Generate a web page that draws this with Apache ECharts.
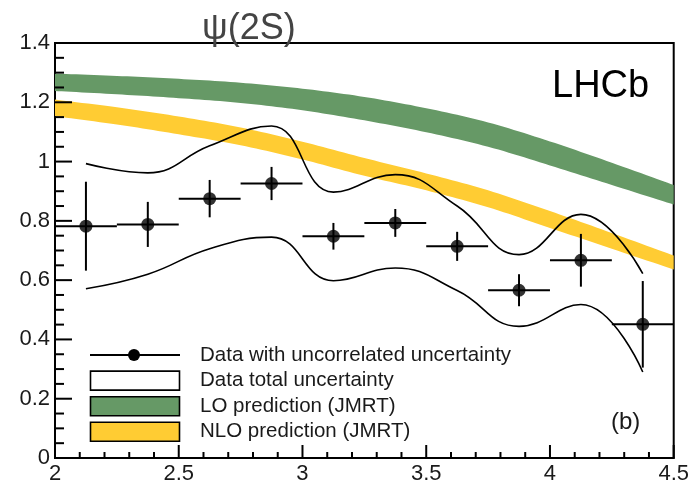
<!DOCTYPE html>
<html>
<head>
<meta charset="utf-8">
<script src="https://cdn.jsdelivr.net/npm/echarts@6/dist/echarts.min.js"></script>
<style>
  html, body { margin: 0; padding: 0; background: #fff; }
  #chart { width: 692px; height: 488px; }
</style>
</head>
<body>
<div id="chart"></div>
<script>
// Measured ratio per rapidity bin, with uncorrelated uncertainties
const binCenters   = [2.125, 2.375, 2.625, 2.875, 3.125, 3.375, 3.625, 3.875, 4.125, 4.375];
const binHalfWidth = [0.125, 0.125, 0.125, 0.125, 0.125, 0.125, 0.125, 0.125, 0.125, 0.125];
const ratio        = [0.782, 0.788, 0.875, 0.926, 0.748, 0.793, 0.714, 0.566, 0.667, 0.451];
const uncorrErr    = [0.150, 0.076, 0.063, 0.056, 0.045, 0.047, 0.049, 0.054, 0.089, 0.146];

// Envelope of the total data uncertainty at each bin centre
const totalUpper = [0.993, 0.962, 1.053, 1.120, 0.897, 0.956, 0.850, 0.686, 0.822, 0.622];
const totalLower = [0.571, 0.620, 0.706, 0.745, 0.598, 0.641, 0.565, 0.444, 0.518, 0.290];

// JMRT predictions (lower / upper edge of each band)
const bandX   = [2.0, 2.25, 2.5, 2.75, 3.0, 3.25, 3.5, 3.75, 4.0, 4.25, 4.5];
const loHigh  = [1.297, 1.289, 1.279, 1.266, 1.246, 1.218, 1.180, 1.132, 1.068, 0.996, 0.921];
const loLow   = [1.238, 1.227, 1.214, 1.198, 1.173, 1.139, 1.099, 1.050, 0.987, 0.921, 0.855];
const nloHigh = [1.209, 1.183, 1.152, 1.115, 1.067, 1.012, 0.960, 0.903, 0.833, 0.759, 0.683];
const nloLow  = [1.153, 1.125, 1.092, 1.055, 1.007, 0.952, 0.903, 0.846, 0.776, 0.706, 0.636];

// Axis ticks
const xTicks = [2, 2.5, 3, 3.5, 4, 4.5];
const yTicks = [0, 0.2, 0.4, 0.6, 0.8, 1.0, 1.2, 1.4];
const xMinorPerMajor = 5;
const yMinorPerMajor = 4;

// Legend entries
const legendLabels = [
  'Data with uncorrelated uncertainty',
  'Data total uncertainty',
  'LO prediction (JMRT)',
  'NLO prediction (JMRT)'
];

const GREEN = '#669966';
const YELLOW = '#ffcc33';
const TEXT = '#1a1a1a';
const FONT = '"Liberation Sans", Arial, sans-serif';

const chart = echarts.init(document.getElementById('chart'), null, { renderer: 'canvas' });

// Smooth outline through pixel points (Catmull-Rom segments drawn as cubic curves)
function smoothOutline(pts, steps) {
  const out = [];
  const n = pts.length;
  const bez = (a, b, c, d, t) => {
    const u = 1 - t;
    return u * u * u * a + 3 * u * u * t * b + 3 * u * t * t * c + t * t * t * d;
  };
  for (let i = 0; i < n - 1; i++) {
    const p0 = pts[Math.max(i - 1, 0)], p1 = pts[i], p2 = pts[i + 1], p3 = pts[Math.min(i + 2, n - 1)];
    const c1 = [p1[0] + (p2[0] - p0[0]) / 6, p1[1] + (p2[1] - p0[1]) / 6];
    const c2 = [p2[0] - (p3[0] - p1[0]) / 6, p2[1] - (p3[1] - p1[1]) / 6];
    for (let s = 0; s < steps; s++) {
      const t = s / steps;
      out.push([bez(p1[0], c1[0], c2[0], p2[0], t), bez(p1[1], c1[1], c2[1], p2[1], t)]);
    }
  }
  out.push(pts[n - 1]);
  return out;
}

function bandSeries(name, low, high, color) {
  return {
    type: 'custom',
    name: name,
    silent: true,
    z: 1,
    data: [[bandX[0], low[0]]],
    encode: { x: 0, y: 1 },
    renderItem: function (params, api) {
      const top = smoothOutline(bandX.map((x, i) => api.coord([x, high[i]])), 12);
      const bottom = smoothOutline(bandX.map((x, i) => api.coord([x, low[i]])), 12).reverse();
      return { type: 'polygon', shape: { points: top.concat(bottom) }, style: { fill: color, stroke: null } };
    }
  };
}

function envelopeSeries(name, values) {
  return {
    type: 'line',
    name: name,
    z: 3,
    smooth: 0.45,
    symbol: 'none',
    silent: true,
    lineStyle: { color: '#000', width: 1.6 },
    data: binCenters.map((x, i) => [x, values[i]])
  };
}

function subdivide(ticks, n) {
  const out = [];
  for (let i = 0; i < ticks.length - 1; i++) {
    const step = (ticks[i + 1] - ticks[i]) / n;
    for (let k = 1; k < n; k++) out.push(ticks[i] + k * step);
  }
  return out;
}
const xMinor = subdivide(xTicks, xMinorPerMajor);
const yMinor = subdivide(yTicks, yMinorPerMajor);

// Inward major/minor ticks along the bottom and left axes, as thin filled bars
function tickChildren(api) {
  const out = [];
  const bar = (x, y, w, h) => ({
    type: 'rect',
    shape: { x: x, y: y, width: w, height: h },
    style: { fill: '#000' }
  });
  const xTick = (v, len) => {
    const p = api.coord([v, yTicks[0]]);
    out.push(bar(p[0] - 1, p[1] - len, 2, len));
  };
  const yTick = (v, len) => {
    const p = api.coord([xTicks[0], v]);
    out.push(bar(p[0], p[1] - 1, len, 2));
  };
  xTicks.forEach(v => xTick(v, 13));
  xMinor.forEach(v => xTick(v, 6));
  yTicks.forEach(v => yTick(v, 17));
  yMinor.forEach(v => yTick(v, 9));
  return out;
}

const option = {
  animation: false,
  backgroundColor: '#fff',
  grid: {
    left: 55, right: 18, top: 43, bottom: 30,
    show: true, borderColor: '#000', borderWidth: 2, backgroundColor: 'transparent'
  },
  xAxis: {
    type: 'value',
    min: xTicks[0], max: xTicks[xTicks.length - 1], interval: xTicks[1] - xTicks[0],
    axisLine: { show: true, lineStyle: { color: '#000', width: 2 } },
    axisTick: { show: false },
    minorTick: { show: false },
    splitLine: { show: false },
    axisLabel: {
      color: TEXT, fontSize: 22, fontFamily: FONT, margin: 5,
      showMinLabel: true, showMaxLabel: true,
      formatter: v => String(Number(v.toFixed(1)))
    }
  },
  yAxis: {
    type: 'value',
    min: yTicks[0], max: yTicks[yTicks.length - 1], interval: 0.2,
    axisLine: { show: true, lineStyle: { color: '#000', width: 2 } },
    axisTick: { show: false },
    minorTick: { show: false },
    splitLine: { show: false },
    axisLabel: {
      color: TEXT, fontSize: 22, fontFamily: FONT, margin: 5,
      showMinLabel: true, showMaxLabel: true,
      formatter: v => String(Number(v.toFixed(1)))
    }
  },
  series: [
    bandSeries('LO prediction (JMRT)', loLow, loHigh, GREEN),
    bandSeries('NLO prediction (JMRT)', nloLow, nloHigh, YELLOW),
    envelopeSeries('Data total uncertainty (upper)', totalUpper),
    envelopeSeries('Data total uncertainty (lower)', totalLower),
    {
      type: 'custom',
      name: 'Data with uncorrelated uncertainty',
      z: 4,
      silent: true,
      clip: false,
      data: binCenters.map((x, i) => [x, ratio[i], uncorrErr[i], binHalfWidth[i]]),
      encode: { x: 0, y: 1 },
      renderItem: function (params, api) {
        const x = api.value(0), y = api.value(1), e = api.value(2), h = api.value(3);
        const l = api.coord([x - h, y]), r = api.coord([x + h, y]);
        const t = api.coord([x, y + e]), b = api.coord([x, y - e]);
        const children = [
          { type: 'line', shape: { x1: l[0], y1: l[1], x2: r[0], y2: r[1] }, style: { stroke: '#000', lineWidth: 2 } },
          { type: 'line', shape: { x1: t[0], y1: t[1], x2: b[0], y2: b[1] }, style: { stroke: '#000', lineWidth: 2 } }
        ];
        // the axis ticks are attached to the first error bar's group
        const all = params.dataIndex === 0 ? children.concat(tickChildren(api)) : children;
        return { type: 'group', children: all };
      }
    },
    {
      type: 'scatter',
      name: 'Data points',
      z: 5,
      silent: true,
      symbol: 'circle',
      symbolSize: 13,
      itemStyle: { color: '#000' },
      data: binCenters.map((x, i) => [x, ratio[i]])
    }
  ],
  graphic: (function () {
    const g = [
      {
        type: 'text', left: 202, top: 11, z: 10,
        style: { text: 'ψ(2S)', font: '36px ' + FONT, fill: '#444' }
      },
      {
        type: 'text', x: 552, y: 87, z: 10,
        style: { text: 'LHCb', font: '38px ' + FONT, fill: '#000', textVerticalAlign: 'middle' }
      },
      {
        type: 'text', x: 611, y: 422, z: 10,
        style: { text: '(b)', font: '24px ' + FONT, fill: TEXT, textVerticalAlign: 'middle' }
      }
    ];
    const legendTop = 355, legendStep = 25.6;
    g.push({
      type: 'line', z: 10, shape: { x1: 90, y1: legendTop, x2: 180, y2: legendTop },
      style: { stroke: '#000', lineWidth: 2 }
    });
    g.push({
      type: 'circle', z: 10, shape: { cx: 134, cy: legendTop, r: 6 }, style: { fill: '#000' }
    });
    ['#ffffff', GREEN, YELLOW].forEach((fill, k) => {
      const cy = legendTop + legendStep * (k + 1);
      g.push({
        type: 'rect', z: 10, shape: { x: 90.5, y: cy - 9.5, width: 89, height: 19 },
        style: { fill: fill, stroke: '#000', lineWidth: 1.6 }
      });
    });
    legendLabels.forEach((label, k) => {
      g.push({
        type: 'text', z: 10, x: 200, y: legendTop + legendStep * k,
        style: { text: label, font: '20.5px ' + FONT, fill: TEXT, textVerticalAlign: 'middle' }
      });
    });
    return g;
  })()
};

chart.setOption(option);
</script>
</body>
</html>
